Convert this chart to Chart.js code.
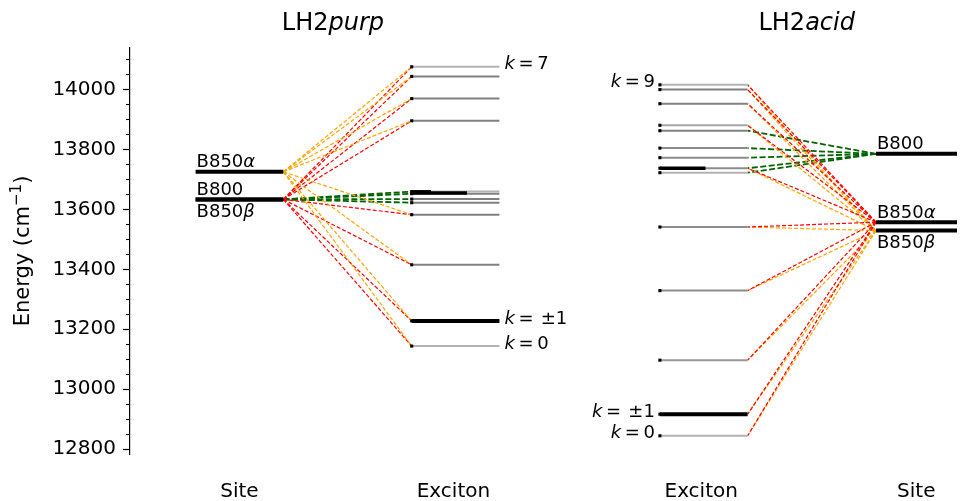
<!DOCTYPE html>
<html>
<head>
<meta charset="utf-8">
<script src="https://cdn.jsdelivr.net/npm/chart.js@4.4.1/dist/chart.umd.min.js"></script>
<style>
  html, body { margin: 0; padding: 0; background: #fff; overflow: hidden; }
  #wrap { position: relative; width: 961px; height: 501px; }
</style>
</head>
<body>
<div id="wrap"><canvas id="chart"></canvas></div>
<script>
// ---- data (energies in cm^-1) ----
const columnNames = ['Site', 'Exciton', 'Exciton', 'Site'];
const panelTitles = [['LH2', 'purp'], ['LH2', 'acid']];

// LH2purp
const purpSiteNames = ['B850α', 'B800', 'B850β'];
const purpSiteE = [13725, 13633, 13633];
const purpExcE = [14075, 14043, 13969, 13895, 13659, 13652, 13634, 13622, 13582, 13415, 13228, 13144];
const purpExcStrength = [0.3, 0.5, 0.5, 0.5, 0.3, 0.5, 0.5, 0.5, 0.5, 0.5, 1, 0.3];
const purpKIdx = [0, 10, 11];
const purpKText = ['7', '±1', '0'];
const purpLinkAlpha = [0, 1, 2, 3, 8, 9, 10, 11];
const purpLinkBeta = [0, 1, 2, 3, 8, 9, 10, 11];
const purpLinkB800 = [4, 5, 6, 7];
const purpBarE = [13654, 13660];
const purpBarFrac = [0.63, 0.22];

// LH2acid
const acidSiteNames = ['B800', 'B850α', 'B850β'];
const acidSiteE = [13785, 13557, 13529];
const acidExcE = [14015, 13999, 13952, 13880, 13862, 13804, 13772, 13737, 13722, 13541, 13329, 13097, 12917, 12845];
const acidExcStrength = [0.3, 0.5, 0.5, 0.35, 0.5, 0.45, 0.45, 0.45, 0.3, 0.45, 0.45, 0.4, 1, 0.3];
const acidKIdx = [0, 12, 13];
const acidKText = ['9', '±1', '0'];
const acidLinkB800 = [4, 5, 6, 7, 8];
const acidLinkAlpha = [0, 1, 2, 3, 7, 9, 10, 11, 12, 13];
const acidLinkBeta = [0, 1, 2, 3, 7, 9, 10, 11, 12, 13];
const acidBarE = [13737];
const acidBarFrac = [0.52];

// ---- layout ----
const COLS = [0, 1.01, 2.17, 3.18];  // x centres of the four columns
const HALF = 0.205;                  // half length of a level line
const FONT = '"DejaVu Sans", sans-serif';

function grayFor(s) {
  if (s >= 1) return '#000000';
  const g = Math.round(255 * (1 - s));
  return `rgb(${g},${g},${g})`;
}

function levelSets(xc, energies, strength) {
  return energies.map((e, i) => ({
    data: [{ x: xc - HALF, y: e }, { x: xc + HALF, y: e }],
    showLine: true, pointRadius: 0,
    borderColor: grayFor(strength[i]),
    borderWidth: strength[i] >= 1 ? 4 : 2,
    order: 2
  }));
}

function barSets(xc, energies, frac) {
  return energies.map((e, i) => ({
    data: [{ x: xc - HALF, y: e }, { x: xc - HALF + 2 * HALF * frac[i], y: e }],
    showLine: true, pointRadius: 0,
    borderColor: '#000', borderWidth: i === 0 ? 3.5 : 2.5,
    order: 1
  }));
}

function linkSets(x0, e0, x1, targets, energies, color, dash, width) {
  return targets.map(i => ({
    data: [{ x: x0, y: e0 }, { x: x1, y: energies[i] }],
    showLine: true, pointRadius: 0,
    borderColor: color, borderWidth: width, borderDash: dash,
    order: 3
  }));
}

function markerSet(xc, energies) {
  return {
    data: energies.map(e => ({ x: xc - HALF, y: e })),
    showLine: false, pointStyle: 'rect', pointRadius: 2.2,
    pointBackgroundColor: '#000', pointBorderWidth: 0,
    order: 0
  };
}

const datasets = [
  // LH2purp: site (left) -> exciton (right)
  ...linkSets(COLS[0] + HALF, purpSiteE[0], COLS[1] - HALF, purpLinkAlpha, purpExcE, '#ffa500', [4, 2], 1.2),
  ...linkSets(COLS[0] + HALF, purpSiteE[2], COLS[1] - HALF, purpLinkBeta, purpExcE, '#ff0000', [4, 2], 1.2),
  ...linkSets(COLS[0] + HALF, purpSiteE[1], COLS[1] - HALF, purpLinkB800, purpExcE, '#006400', [6, 2.5], 1.8),
  ...levelSets(COLS[0], purpSiteE, [1, 1, 1]),
  ...levelSets(COLS[1], purpExcE, purpExcStrength),
  ...barSets(COLS[1], purpBarE, purpBarFrac),
  markerSet(COLS[1], purpExcE),
  // LH2acid: exciton (left) -> site (right)
  ...linkSets(COLS[3] - HALF, acidSiteE[1], COLS[2] + HALF, acidLinkAlpha, acidExcE, '#ff0000', [4, 2], 1.2),
  ...linkSets(COLS[3] - HALF, acidSiteE[2], COLS[2] + HALF, acidLinkBeta, acidExcE, '#ffa500', [4, 2], 1.2),
  ...linkSets(COLS[3] - HALF, acidSiteE[0], COLS[2] + HALF, acidLinkB800, acidExcE, '#006400', [6, 2.5], 1.8),
  ...levelSets(COLS[3], acidSiteE, [1, 1, 1]),
  ...levelSets(COLS[2], acidExcE, acidExcStrength),
  ...barSets(COLS[2], acidBarE, acidBarFrac),
  markerSet(COLS[2], acidExcE)
];

// draw text made of plain / italic pieces
function rich(ctx, parts, x, y, align, size) {
  let w = 0;
  parts.forEach(([t, it]) => { ctx.font = (it ? 'italic ' : '') + size + 'px ' + FONT; w += ctx.measureText(t).width; });
  let cx = align === 'right' ? x - w : align === 'center' ? x - w / 2 : x;
  ctx.textAlign = 'left';
  parts.forEach(([t, it]) => {
    ctx.font = (it ? 'italic ' : '') + size + 'px ' + FONT;
    ctx.fillText(t, cx, y);
    cx += ctx.measureText(t).width;
  });
}

function siteParts(name) {
  const last = name.slice(-1);
  return /[α-ω]/.test(last) ? [[name.slice(0, -1), false], [last, true]] : [[name, false]];
}

function kParts(t) {
  return [['k', true], ['\u2009=\u2009' + (t.startsWith('±') ? '\u2009' : '') + t, false]];
}

const labelPlugin = {
  id: 'labels',
  afterDraw(chart) {
    const { ctx, scales: { x, y }, chartArea } = chart;
    ctx.save();
    ctx.fillStyle = '#000';

    // minor ticks on the energy axis
    ctx.strokeStyle = '#000';
    ctx.lineWidth = 1.1;
    for (let v = 12850; v <= 14100; v += 50) {
      if (v % 200 === 0) continue;
      const py = Math.round(y.getPixelForValue(v)) + 0.5;
      ctx.beginPath();
      ctx.moveTo(chartArea.left - 4, py);
      ctx.lineTo(chartArea.left, py);
      ctx.stroke();
    }

    // panel titles
    ctx.textBaseline = 'middle';
    const titleX = [0.437, 2.651];
    panelTitles.forEach((t, i) => rich(ctx, [[t[0], false], [t[1], true]], x.getPixelForValue(titleX[i]), 24, 'center', 24));

    // y axis title
    ctx.save();
    ctx.translate(24, (chartArea.top + chartArea.bottom) / 2);
    ctx.rotate(-Math.PI / 2);
    ctx.textBaseline = 'middle';
    ctx.font = '21px ' + FONT;
    const a = 'Energy (cm', b = '−1', c = ')';
    const wa = ctx.measureText(a).width, wc = ctx.measureText(c).width;
    ctx.font = '15px ' + FONT;
    const wb = ctx.measureText(b).width;
    let sx = -(wa + wb + wc) / 2;
    ctx.font = '21px ' + FONT; ctx.textAlign = 'left';
    ctx.fillText(a, sx, 0); sx += wa;
    ctx.font = '15px ' + FONT; ctx.fillText(b, sx, -7); sx += wb;
    ctx.font = '21px ' + FONT; ctx.fillText(c, sx, 0);
    ctx.restore();

    // k labels
    ctx.textBaseline = 'middle';
    purpKIdx.forEach((idx, i) => rich(ctx, kParts(purpKText[i]),
      x.getPixelForValue(COLS[1] + HALF) + 5, y.getPixelForValue(purpExcE[idx]) - 2, 'left', 18));
    acidKIdx.forEach((idx, i) => rich(ctx, kParts(acidKText[i]),
      x.getPixelForValue(COLS[2] - HALF) - 5, y.getPixelForValue(acidExcE[idx]) - 2, 'right', 18));

    // site labels: beta below its line, others above
    const sites = [[COLS[0], purpSiteNames, purpSiteE], [COLS[3], acidSiteNames, acidSiteE]];
    sites.forEach(([xc, names, energies]) => {
      names.forEach((n, i) => {
        const px = x.getPixelForValue(xc - HALF) + 1;
        const py = y.getPixelForValue(energies[i]);
        const below = n.endsWith('β');
        ctx.textBaseline = below ? 'top' : 'alphabetic';
        rich(ctx, siteParts(n), px, below ? py + 3.5 : py - 4.5, 'left', 18);
      });
    });
    ctx.restore();
  }
};

new Chart(document.getElementById('chart'), {
  type: 'scatter',
  data: { datasets },
  options: {
    responsive: true,
    maintainAspectRatio: false,
    animation: false,
    devicePixelRatio: 1,
    layout: { padding: { top: 48, left: 0, right: 0, bottom: 0 } },
    plugins: { legend: { display: false }, tooltip: { enabled: false } },
    scales: {
      x: {
        type: 'linear',
        min: -0.5116,
        max: 3.3535,
        grid: { display: false, drawTicks: true, tickLength: 18 },
        border: { display: false },
        afterBuildTicks: s => { s.ticks = [0, 1, 2.158, 3.163].map(v => ({ value: v })); },
        afterFit: s => { s.height = 47; },
        ticks: {
          autoSkip: false, maxRotation: 0, padding: 8,
          color: '#000', font: { family: 'DejaVu Sans', size: 20 },
          callback: (v, i) => columnNames[i]
        }
      },
      y: {
        type: 'linear',
        min: 12784.3,
        max: 14137.7,
        afterFit: s => { s.width = 130; },
        border: { display: true, color: '#000', width: 1.2 },
        grid: { display: true, drawOnChartArea: false, tickLength: 7, tickColor: '#000', tickWidth: 1.2 },
        ticks: {
          stepSize: 200, includeBounds: false, padding: 7,
          color: '#000', font: { family: 'DejaVu Sans', size: 20 },
          callback: v => String(v)
        }
      }
    }
  },
  plugins: [labelPlugin]
});
</script>
</body>
</html>
